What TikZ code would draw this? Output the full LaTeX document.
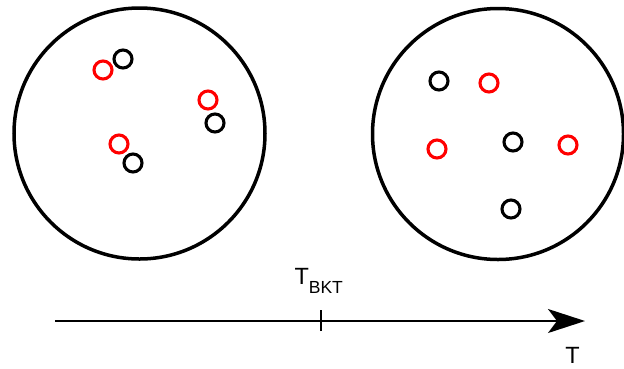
\documentclass[tikz,border=0pt]{standalone}
\usepackage{fontspec}
\setmainfont{Liberation Sans}
\usetikzlibrary{arrows.meta}
\tikzset{
  big/.style={circle, draw=black, line width=3.5pt, inner sep=0pt, minimum size=251pt},
  blk/.style={circle, draw=black, line width=3.1pt, inner sep=0pt, minimum size=18pt},
  rd/.style={circle, draw=red, line width=3.1pt, inner sep=0pt, minimum size=18pt},
  axis/.style={line width=2pt, -{Stealth[length=37pt, width=24pt, inset=9pt]}},
  lbl/.style={inner sep=0pt, outer sep=0pt, font=\fontsize{23.5}{23.5}\selectfont}
}
\begin{document}
\begin{tikzpicture}[x=1pt, y=-1pt]
\useasboundingbox (0,0) rectangle (624,368);
% big circles
\node[big] (L) at (139.5,133.5) {};
\node[big] (R) at (498,134) {};
% left circle pairs
\node[blk] (l1) at (123,59) {};
\node[rd]  (l2) at (103,70) {};
\node[rd]  (l3) at (208,100) {};
\node[blk] (l4) at (215,123) {};
\node[rd]  (l5) at (119,144) {};
\node[blk] (l6) at (133,163) {};
% right circle
\node[blk] (r1) at (439,81) {};
\node[rd]  (r2) at (489,83) {};
\node[rd]  (r3) at (437,149) {};
\node[blk] (r4) at (513,142) {};
\node[rd]  (r5) at (568,145) {};
\node[blk] (r6) at (511,209) {};
% axis
\coordinate (a0) at (55,321);
\coordinate (a1) at (585,321);
\draw[axis] (a0) -- (a1);
\coordinate (tk) at (321,321);
\draw[line width=2pt] ([yshift=-10pt]tk) -- ([yshift=11pt]tk);
\node[lbl, anchor=base west] (tb) at (294.5,284) {T\raisebox{-9pt}{\fontsize{17.5}{17.5}\selectfont BKT}};
\node[lbl, anchor=base] (tt) at (572.5,363.5) {T};
\end{tikzpicture}
\end{document}
